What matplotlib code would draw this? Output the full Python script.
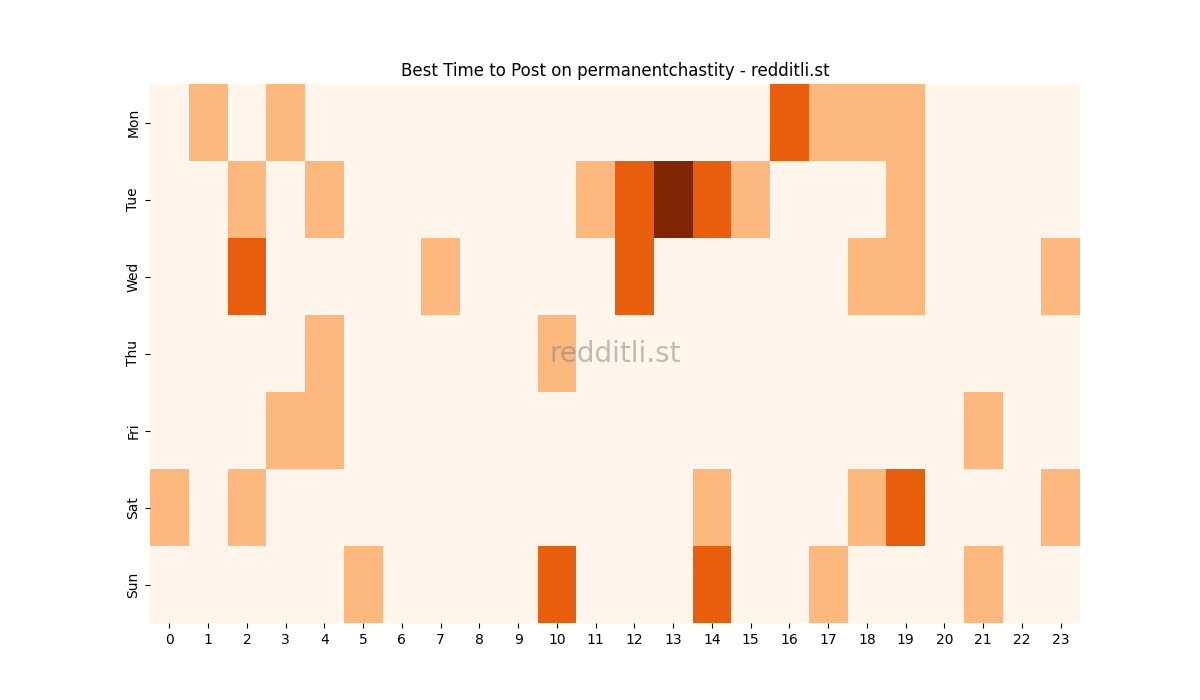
import matplotlib
matplotlib.use("Agg")
import matplotlib.pyplot as plt
import seaborn as sns
import numpy as np

days = ["Mon", "Tue", "Wed", "Thu", "Fri", "Sat", "Sun"]
hours = list(range(24))

mon = [0,1,0,1,0,0,0,0,0,0,0,0,0,0,0,0,2,1,1,1,0,0,0,0]
tue = [0,0,1,0,1,0,0,0,0,0,0,1,2,3,2,1,0,0,0,1,0,0,0,0]
wed = [0,0,2,0,0,0,0,1,0,0,0,0,2,0,0,0,0,0,1,1,0,0,0,1]
thu = [0,0,0,0,1,0,0,0,0,0,1,0,0,0,0,0,0,0,0,0,0,0,0,0]
fri = [0,0,0,1,1,0,0,0,0,0,0,0,0,0,0,0,0,0,0,0,0,1,0,0]
sat = [1,0,1,0,0,0,0,0,0,0,0,0,0,0,1,0,0,0,1,2,0,0,0,1]
sun = [0,0,0,0,0,1,0,0,0,0,2,0,0,0,2,0,0,1,0,0,0,1,0,0]

data = np.array([mon, tue, wed, thu, fri, sat, sun])

fig, ax = plt.subplots(figsize=(12, 7), dpi=100)
sns.heatmap(data, ax=ax, cmap="Oranges", vmin=0, vmax=3, cbar=False,
            xticklabels=hours, yticklabels=days)
ax.set_yticklabels(days, rotation=90, va="center")
ax.set_xticklabels(hours, rotation=0)
ax.set_title("Best Time to Post on permanentchastity - redditli.st", fontsize=12)
ax.text(0.5, 0.5, "redditli.st", transform=ax.transAxes, ha="center", va="center",
        fontsize=20, color="gray", alpha=0.5)
fig.savefig("out.png", dpi=100)
